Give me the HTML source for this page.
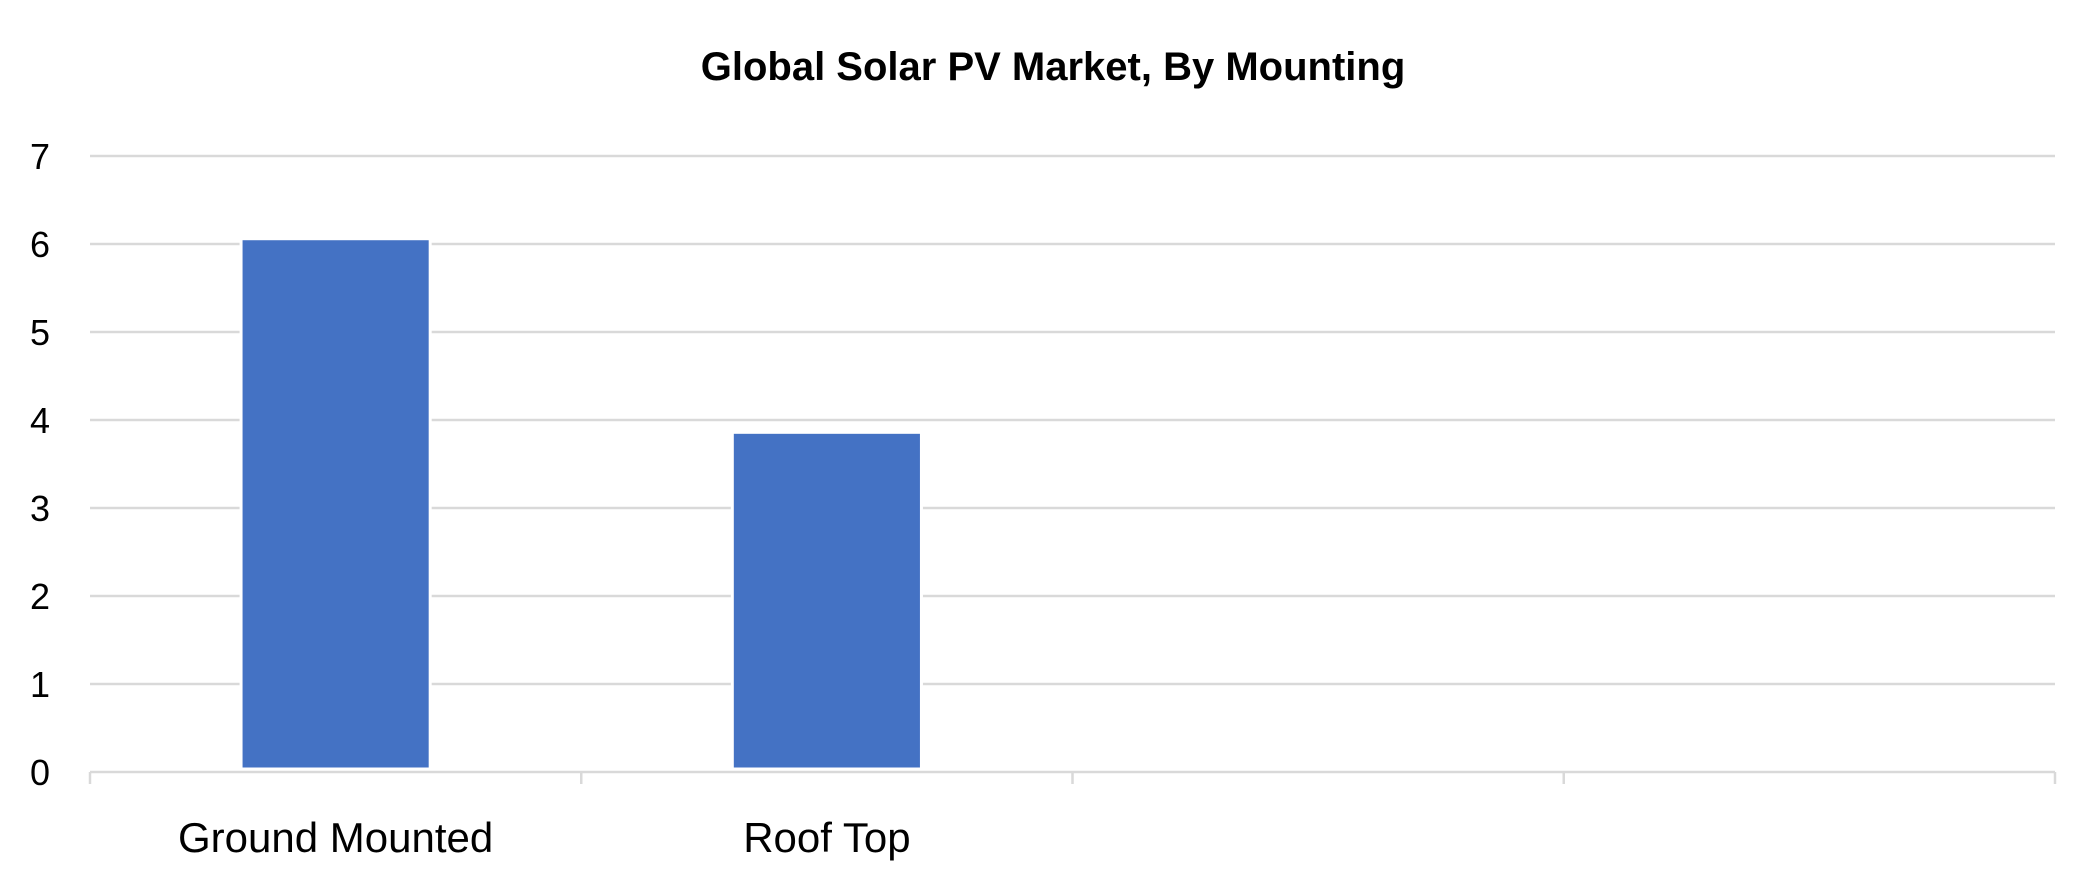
<!DOCTYPE html>
<html><head><meta charset="utf-8"><style>
html,body{margin:0;padding:0;background:#fff;}
svg{display:block;font-family:"Liberation Sans",sans-serif;}
</style></head><body>
<svg id="chart" width="2075" height="884" viewBox="0 0 2075 884">
<text x="1053" y="80" text-anchor="middle" font-size="40" font-weight="bold" fill="#000">Global Solar PV Market, By Mounting</text>
<g id="grid"></g><g id="bars"></g><g id="labels"></g>
</svg>
<script>
const categories = ["Ground Mounted", "Roof Top", "", ""];
const values = [6.06, 3.86, null, null];
const yTicks = [0, 1, 2, 3, 4, 5, 6, 7];
const ns = "http://www.w3.org/2000/svg";
const L = 90, R = 2055, T = 156, B = 772, yMax = 7;
const y = v => B - (v / yMax) * (B - T);
const band = (R - L) / categories.length;
const x = i => L + i * band;
const barW = band * 0.385;
function mk(tag, attrs, parent) {
  const e = document.createElementNS(ns, tag);
  for (const k in attrs) e.setAttribute(k, attrs[k]);
  parent.appendChild(e);
  return e;
}
const grid = document.getElementById("grid"), bars = document.getElementById("bars"), labels = document.getElementById("labels");
yTicks.forEach(t => {
  const ln = mk("line", {x1: L, x2: R, y1: y(t), y2: y(t), stroke: "#d9d9d9", "stroke-width": 2.5}, grid);
  
  
  const tx = mk("text", {x: 40, y: y(t) + 13, "text-anchor": "middle", "font-size": 36, fill: "#000"}, labels);
  tx.textContent = t;
  
  
});
for (let i = 0; i <= categories.length; i++) {
  const tk = mk("line", {x1: x(i), x2: x(i), y1: B, y2: B + 12, stroke: "#d9d9d9", "stroke-width": 2.5}, grid);
  
  
}
categories.forEach((c, i) => {
  const cx = x(i) + band / 2;
  if (values[i] != null) {
    const r = mk("rect", {x: cx - barW / 2, y: y(values[i]), width: barW, height: B - 3 - y(values[i]), fill: "#4472c4", stroke: "#fff", "stroke-width": 3}, bars);
    
    
  }
  if (c) {
    const tx = mk("text", {x: cx, y: 852, "text-anchor": "middle", "font-size": 42, fill: "#000"}, labels);
    tx.textContent = c;
    
    
  }
});
</script>
</body></html>
